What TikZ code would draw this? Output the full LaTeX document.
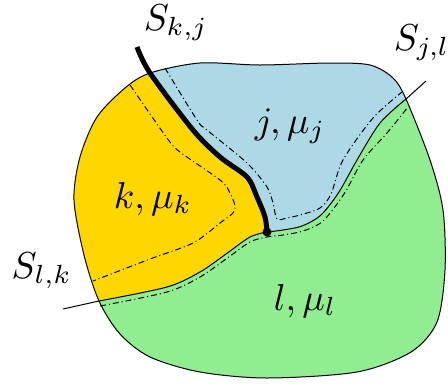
\documentclass[tikz,border=0pt]{standalone}
\definecolor{cY}{RGB}{255,215,0}
\definecolor{cBl}{RGB}{173,216,230}
\definecolor{cG}{RGB}{144,238,144}
\tikzset{
  cA/.style={insert path={-- plot[smooth] coordinates {(137,47) (150,73) (193,130) (220,157) (247,177) (257,197) (265,217) (267,232)}}},
  cB/.style={insert path={-- plot[smooth] coordinates {(267,232) (250,237) (226,254) (200,272) (167,287) (99,301)}}},
  cC/.style={insert path={-- plot[smooth] coordinates {(267,232) (283,230) (302,226) (321,215) (339,192) (357,160) (380,123) (406,99)}}},
  oP/.style={insert path={plot[smooth cycle] coordinates {(150,73) (200,63) (260,65) (330,63) (370,65) (393,78) (406,99) (430,160) (443,210) (445,270) (437,322) (411,352) (357,372) (267,378) (200,372) (150,357) (120,334) (99,301) (84,255) (74,200) (80,157) (97,117) (125,88)}}},
  thinl/.style={line width=1pt},
  dashdotl/.style={line width=1pt, dash pattern=on 6pt off 3pt on 1pt off 3pt},
  lab/.style={inner sep=0pt, anchor=base west, scale=3.75, font=\normalsize}
}
\begin{document}
\begin{tikzpicture}[x=1pt,y=-1pt,line join=round]
\useasboundingbox (0,0) rectangle (448,384);
\coordinate (J) at (267,232);
\coordinate (L) at (99,301);
\coordinate (Lx) at (63,309);
\coordinate (R) at (406,99);
\coordinate (Rx) at (426,81);
\coordinate (Kx) at (137,47);
% fills
\fill[cG][oP];
\begin{scope}
  \clip[oP];
  \fill[cY] (Kx) [cA] [cB] -- (Lx) -- (0,320) -- (0,0) -- (137,0) -- cycle;
  \fill[cBl] (Kx) [cA] [cC] -- (Rx) -- (448,40) -- (448,0) -- (137,0) -- cycle;
\end{scope}
% dash-dot inner offsets
\draw[dashdotl] plot[smooth] coordinates {(130,85) (167,138) (180,152) (220,180) (230,193) (235,210) (220,223) (193,243) (150,259) (93,281)};
\draw[dashdotl] plot[smooth] coordinates {(165,68) (197,120) (207,130) (247,163) (267,187) (273,203) (277,219) (287,218) (300,215) (320,208) (331,194) (343,160) (373,118) (402,92)};
\draw[dashdotl] plot[smooth] coordinates {(100,306) (167,292) (200,277) (226,259) (250,242) (267,237) (283,235) (303,231) (323,221) (344,194) (363,160) (387,133) (408,107)};
% boundaries
\draw[thinl][oP];
\draw[thinl] (J) [cB];
\draw[thinl] (J) [cC];
\draw[thinl] (L) -- (Lx);
\draw[thinl] (R) -- (Rx);
\draw[line width=5pt] (Kx) [cA];
\fill (J) circle[radius=4.5pt];
% labels
\node[lab] (Skj) at (143,30) {$S_{k,j}$};
\node[lab] (Sjl) at (393,50) {$S_{j,l}$};
\node[lab] (Slk) at (11,278) {$S_{l,k}$};
\node[lab] (k) at (113,208) {$k,\mu_k$};
\node[lab] (j) at (254,133) {$j,\mu_j$};
\node[lab] (l) at (273,310) {$l,\mu_l$};
\end{tikzpicture}
\end{document}
